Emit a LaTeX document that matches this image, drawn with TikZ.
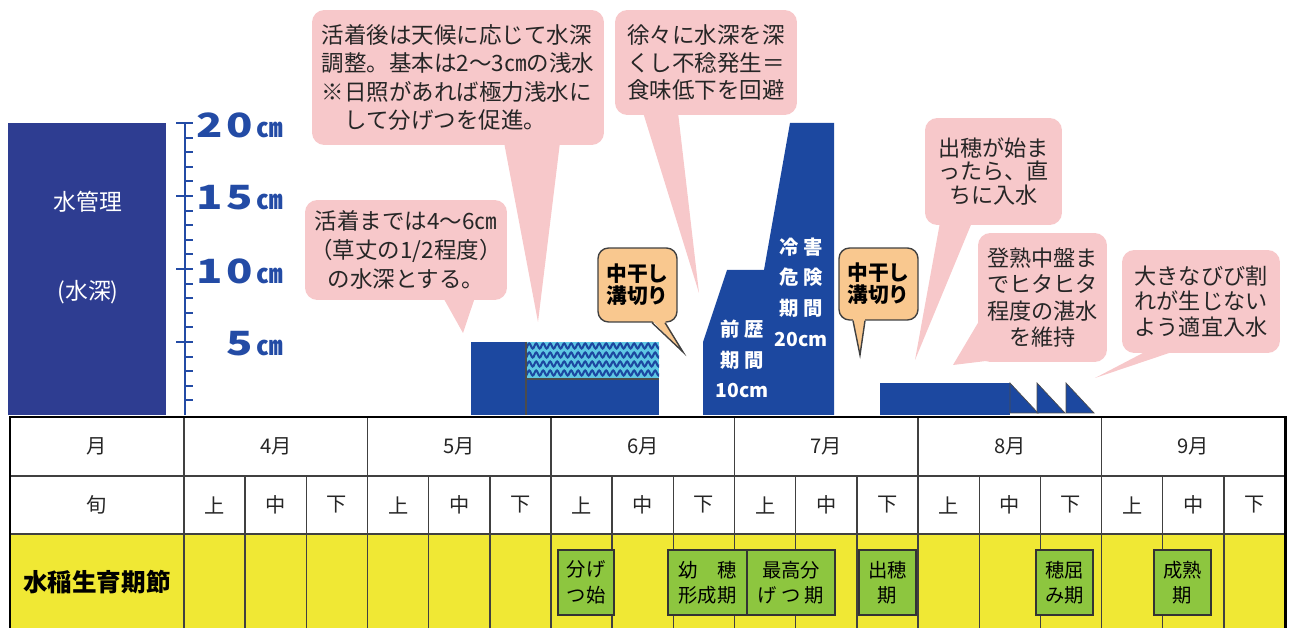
\documentclass[tikz,border=0pt]{standalone}
\usepackage{fontspec}
\setmainfont{Noto Sans CJK JP}
\usepackage{tikz}
\usetikzlibrary{calc,decorations.pathmorphing}
\definecolor{navy}{RGB}{46,61,145}
\definecolor{barblue}{RGB}{28,72,160}
\definecolor{waterc}{RGB}{95,200,228}
\definecolor{axisblue}{RGB}{35,75,165}
\definecolor{pinkc}{RGB}{247,200,202}
\definecolor{orangec}{RGB}{249,200,143}
\definecolor{yellowc}{RGB}{240,232,52}
\definecolor{greenc}{RGB}{141,198,63}
\newcommand{\dig}[1]{\scalebox{1.3}[1]{#1}\hspace{2pt}}

\begin{document}
\begin{tikzpicture}[x=0.02cm,y=-0.02cm]
\tikzstyle{balloon}=[fill=pinkc,rounded corners=7pt,inner sep=0pt,align=center,text=black!85,font=\fontsize{12.8}{16}\selectfont]
\tikzstyle{dry}=[fill=orangec,draw=black!75,line width=0.8pt,rounded corners=6pt,inner sep=0pt,align=center,font=\bfseries\fontsize{11.8}{12.5}\selectfont]
\tikzstyle{stage}=[fill=greenc,draw=black!80,line width=0.8pt,inner sep=0pt,align=center,minimum height=1.3cm,font=\fontsize{11}{14.5}\selectfont]
\tikzstyle{cell}=[text=black!85,font=\fontsize{11.5}{14}\selectfont]
\tikzstyle{depth}=[anchor=east,text=axisblue,inner sep=0pt,font=\bfseries\fontsize{19}{20}\selectfont]
\tikzstyle{onbar}=[text=white,align=center,inner sep=0pt,font=\bfseries\fontsize{11}{17.5}\selectfont]
\tikzstyle{grid}=[black!75,line width=0.8pt]

\useasboundingbox (0,0) rectangle (1296,628);

\fill[navy] (8,123) rectangle (166,415);
\node[text=white,font=\fontsize{13}{14}\selectfont] (kanri) at (88,202) {水管理};
\node[text=white,font=\fontsize{13}{14}\selectfont] (suishin) at (88,292) {(水深)};

\draw[axisblue,line width=1.3pt] (185,123) -- (185,415);
\foreach \i in {1,...,20}
  \draw[axisblue,line width=1.1pt] (185,{415-14.6*\i}) -- (193,{415-14.6*\i});
\foreach \i/\t in {5/\dig{5},10/\dig{1}\dig{0},15/\dig{1}\dig{5},20/\dig{2}\dig{0}}{
  \draw[axisblue,line width=1.1pt] (176,{415-14.6*\i}) -- (193,{415-14.6*\i});
  \node[depth] (d\i) at (283,{417-14.6*\i}) {\t{\fontsize{15}{16}\selectfont ㎝}};
}

\fill[barblue] (471,342) rectangle (526,415);
\fill[barblue] (526,379) rectangle (659,415);
\fill[waterc] (526,342) rectangle (659,379);
\begin{scope}
\clip (526,342) rectangle (659,379);
\foreach \y in {346,355,364,373}
  \draw[barblue,line width=1.2pt,decorate,decoration={snake,segment length=0.14cm,amplitude=0.05cm}] (520,\y) -- (670,\y);
\end{scope}
\draw[black!70,line width=0.6pt] (526,342) -- (526,415) (526,379) -- (659,379);

\fill[barblue] (703,415) -- (703,342) -- (727,270) -- (764,270) -- (790,123) -- (834,123) -- (834,415) -- cycle;
\node[onbar] (zenreki) at (742,359) {前 歴\\期 間\\10cm};
\node[onbar] (reigai) at (801,292) {冷 害\\危 険\\期 間\\20cm};

\fill[barblue] (880,383) rectangle (1010,415);
\foreach \x in {1010,1037,1066}
  \filldraw[fill=barblue,draw=black!70,line width=0.4pt] (\x,383) -- (\x,413) -- ({\x+28},413) -- cycle;

\node[balloon,minimum width=5.84cm,minimum height=2.7cm,align=left] (katsu2) at (458,77.5)
  {活着後は天候に応じて水深\\調整。基本は2～3㎝の浅水\\※日照があれば極力浅水に\\　して分げつを促進。};
\coordinate (katsu2tip) at (538,322);
\fill[pinkc] ($(katsu2.south)+(46,-3)$) -- (katsu2tip) -- ($(katsu2.south)+(102,-3)$) -- cycle;

\node[balloon,minimum width=4.04cm,minimum height=2.0cm,font=\fontsize{12.8}{16.5}\selectfont] (katsu1) at (406,250)
  {活着までは4～6㎝\\（草丈の1/2程度）\\の水深とする。};
\coordinate (katsu1tip) at (463,333);
\fill[pinkc] ($(katsu1.south)+(37,-3)$) -- (katsu1tip) -- ($(katsu1.south)+(69,-3)$) -- cycle;

\node[balloon,minimum width=3.64cm,minimum height=2.1cm,align=left,font=\fontsize{12.8}{15.6}\selectfont] (fukaku) at (706,62.5)
  {徐々に水深を深\\くし不稔発生＝\\食味低下を回避};
\coordinate (fukakutip) at (699,293);
\fill[pinkc] ($(fukaku.south)+(-63,-3)$) -- (fukakutip) -- ($(fukaku.south)+(-28,-3)$) -- cycle;

\node[balloon,minimum width=2.74cm,minimum height=2.14cm,font=\fontsize{12.6}{13.6}\selectfont] (shusui) at (993.5,171.5)
  {出穂が始ま\\ったら、直\\ちに入水};
\coordinate (shusuitip) at (915,360);
\fill[pinkc] ($(shusui.south)+(-53.5,-3)$) -- (shusuitip) -- ($(shusui.south)+(-21.5,-3)$) -- cycle;

\node[balloon,minimum width=2.58cm,minimum height=2.58cm,font=\fontsize{12.6}{15}\selectfont] (tojuku) at (1042.5,297.5)
  {登熟中盤ま\\でヒタヒタ\\程度の湛水\\を維持};
\coordinate (tojukutip) at (953,365);
\fill[pinkc] ($(tojuku.south west)+(3,-44)$) -- (tojukutip) -- ($(tojuku.south west)+(22,-3)$) -- cycle;

\node[balloon,minimum width=3.16cm,minimum height=2.06cm,font=\fontsize{12.6}{14.5}\selectfont] (hibi) at (1201,301.5)
  {大きなびび割\\れが生じない\\よう適宜入水};
\coordinate (hibitip) at (1095,378);
\fill[pinkc] ($(hibi.south)+(-53,-3)$) -- (hibitip) -- ($(hibi.south)+(-24,-3)$) -- cycle;

\node[dry,minimum width=1.58cm,minimum height=1.48cm] (naka1) at (637.5,285) {中干し\\溝切り};
\coordinate (naka1tip) at (683,352);
\fill[orangec] ($(naka1.south)+(14.5,-2)$) -- (naka1tip) -- ($(naka1.south)+(27.5,-2)$) -- cycle;
\draw[black!75,line width=0.8pt] ($(naka1.south)+(14.5,0)$) -- (naka1tip) -- ($(naka1.south)+(27.5,0)$);

\node[dry,minimum width=1.58cm,minimum height=1.44cm] (naka2) at (878.5,284) {中干し\\溝切り};
\coordinate (naka2tip) at (860,355);
\fill[orangec] ($(naka2.south)+(-25.5,-2)$) -- (naka2tip) -- ($(naka2.south)+(-13.5,-2)$) -- cycle;
\draw[black!75,line width=0.8pt] ($(naka2.south)+(-25.5,0)$) -- (naka2tip) -- ($(naka2.south)+(-13.5,0)$);

\fill[yellowc] (10,534) rectangle (1285,640);
\draw[grid] (10,476) -- (1285,476) (10,534) -- (1285,534);
\draw[grid] (184,417) -- (184,640);
\foreach \m in {1,...,5}
  \draw[grid] ({184+183.5*\m},417) -- ({184+183.5*\m},640);
\foreach \k in {1,...,17}
  \draw[grid] ({184+61.17*\k},476) -- ({184+61.17*\k},640);
\draw[black,line width=1.7pt] (10,640) -- (10,417) -- (1285,417) -- (1285,640);

\node[cell] (tsuki) at (97,446) {月};
\node[cell] (jun) at (97,505) {旬};
\node[font=\bfseries\fontsize{14}{16}\selectfont] (seiiku) at (97,582) {水稲生育期節};
\foreach \m/\t in {0/4月,1/5月,2/6月,3/7月,4/8月,5/9月}{
  \node[cell] (mon\m) at ({184+183.5*\m+91.75},446) {\t};
  \foreach \j/\s in {0/上,1/中,2/下}
    \node[cell] (jun\m\j) at ({184+183.5*\m+61.17*\j+30.6},505) {\s};
}

\node[stage,minimum width=1.12cm] (bunketsu) at (586,582.5) {分げ\\つ始};
\node[stage,minimum width=1.58cm] (yousui) at (707.5,582.5) {幼　穂\\形成期};
\node[stage,minimum width=1.76cm] (saikou) at (791,582.5) {最高分\\げ つ 期};
\node[stage,minimum width=1.14cm] (shussui) at (887.5,582.5) {出穂\\期};
\node[stage,minimum width=1.14cm] (hokagami) at (1064.5,582.5) {穂屈\\み期};
\node[stage,minimum width=1.14cm] (seijuku) at (1182.5,582.5) {成熟\\期};
\end{tikzpicture}
\end{document}
